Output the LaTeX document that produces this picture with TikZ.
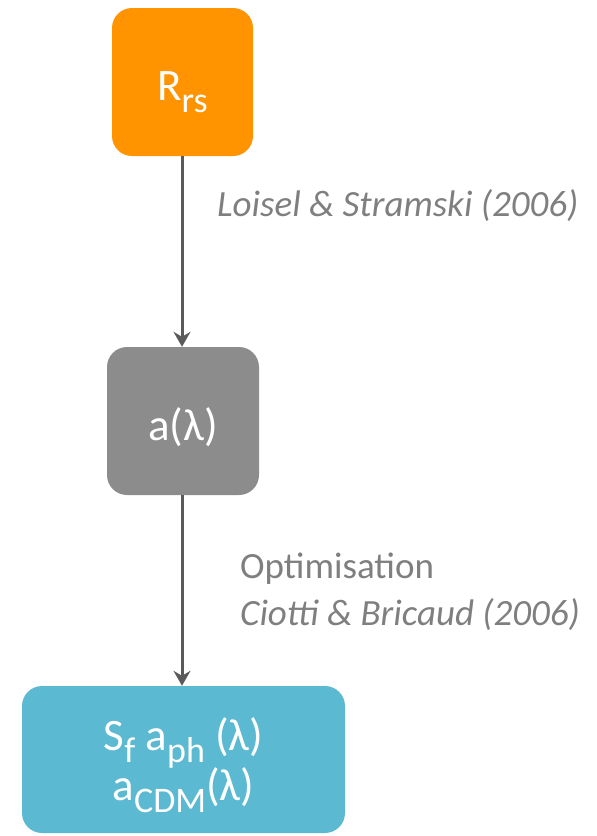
\documentclass[tikz,border=0pt]{standalone}
\usepackage{fontspec}
\setmainfont{Carlito}
\usetikzlibrary{arrows.meta}
\definecolor{rsorange}{HTML}{FF9400}
\definecolor{absgray}{HTML}{8C8C8C}
\definecolor{phblue}{HTML}{5BB9D2}
\definecolor{linegray}{HTML}{5A5A5A}
\definecolor{textgray}{HTML}{7F7F7F}
\newcommand\lowsub[1]{\raisebox{-0.28em}[0pt][0pt]{\fontsize{36}{36}\selectfont #1}}
\newcommand\boxtext[2]{\raisebox{-#1}[\height][\depth]{\begin{tabular}{@{}c@{}}#2\end{tabular}}}

\begin{document}
\begin{tikzpicture}[x=1pt,y=-1pt,
	box/.style={rounded corners=20pt, text=white, align=center, inner sep=0pt,
		font=\fontsize{45}{50}\selectfont},
	flow/.style={line width=3pt, color=linegray, -{Stealth[length=15pt,width=17pt,inset=5pt]}},
	note/.style={text=textgray, anchor=west, inner sep=0pt, font=\fontsize{37}{46}\selectfont}]
			%%%%% START %%%%%
			
			\useasboundingbox (0, 0) rectangle (597, 836);
			
			\node[box, fill=rsorange, minimum width=141pt, minimum height=148pt] (rrs) at (182.5, 82) {\boxtext{8pt}{R\lowsub{rs}}};
			\node[box, fill=absgray, minimum width=152pt, minimum height=148pt] (abs) at (183, 421) {\boxtext{9pt}{a(λ)}};
			\node[box, fill=phblue, minimum width=323pt, minimum height=147pt] (aph) at (183.5, 759.5) {\boxtext{5.5pt}{S\lowsub{f} a\lowsub{ph} (λ)\\a\lowsub{CDM}(λ)}};
			
			\draw[flow] (rrs.south -| 182, 0) -- (abs.north -| 182, 0);
			\draw[flow] (abs.south -| 182, 0) -- (aph.north -| 182, 0);
			
			\node[note] (loisel) at (217, 206) {\itshape Loisel \& Stramski (2006)};
			\node[note] (optim) at (240, 569) {Optimisation};
			\node[note] (ciotti) at (240, 615) {\itshape Ciotti \& Bricaud (2006)};
			
			%%%%% END %%%%%
\end{tikzpicture}
\end{document}
